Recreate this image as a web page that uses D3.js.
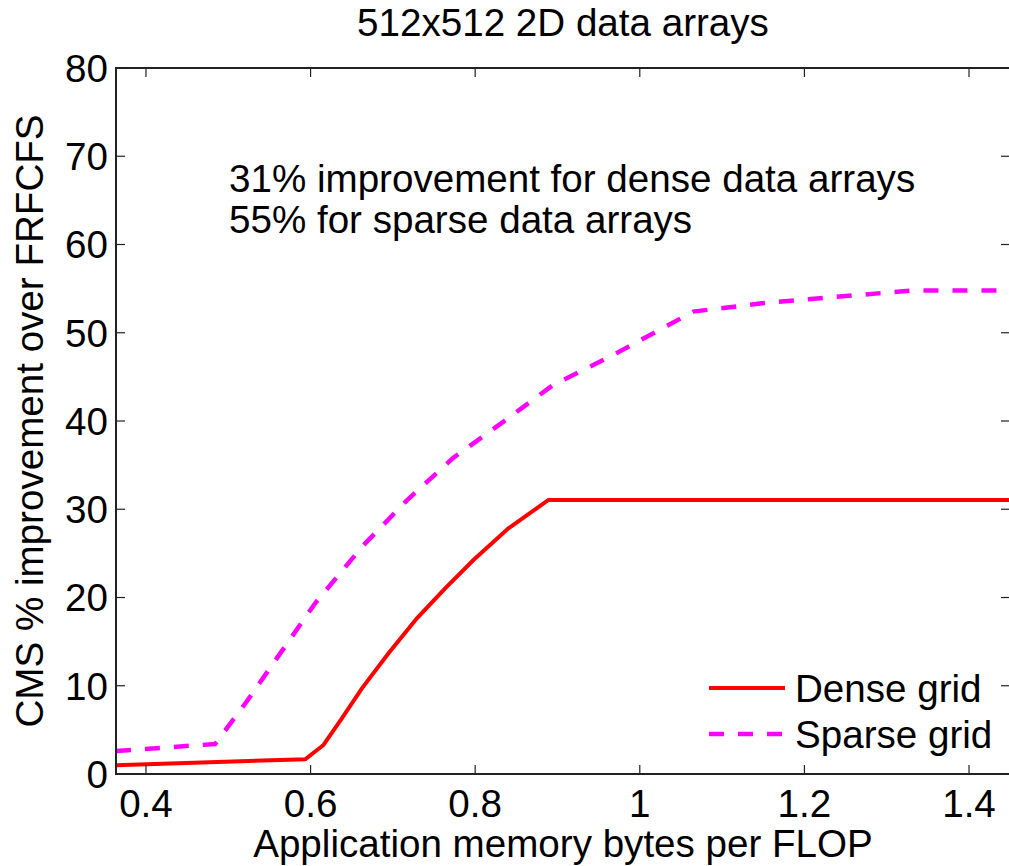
<!DOCTYPE html>
<html>
<head>
<meta charset="utf-8">
<script src="https://cdn.jsdelivr.net/npm/d3@7"></script>
<style>
  body { margin: 0; background: #fff; }
  text { font-family: "Liberation Sans", Arial, Helvetica, sans-serif; fill: #000; }
</style>
</head>
<body>
<div id="chart"></div>
<script>
// Data
const denseX = [0.3636, 0.5935, 0.6157, 0.638, 0.6624, 0.6947, 0.7292, 0.7635, 0.7979, 0.8404, 0.889, 1.4498];
const denseY = [1.0, 1.67, 3.29, 6.31, 9.71, 13.68, 17.64, 21.04, 24.25, 27.84, 31.05, 31.05];
const sparseX = [0.3636, 0.484, 0.52, 0.606, 0.664, 0.717, 0.773, 0.834, 0.895, 0.964, 1.065, 1.154, 1.332, 1.4498];
const sparseY = [2.6, 3.4, 7.9, 19.4, 25.9, 31.0, 35.8, 39.9, 44.1, 47.3, 52.4, 53.4, 54.8, 54.8];
const xTicks = [0.4, 0.6, 0.8, 1, 1.2, 1.4];
const yTicks = [0, 10, 20, 30, 40, 50, 60, 70, 80];
const seriesNames = ['Dense grid', 'Sparse grid'];
const annotation = ['31% improvement for dense data arrays', '55% for sparse data arrays'];

const width = 1009;
const height = 866;
const margin = { left: 116, right: -1, top: 68, bottom: 92 };
const fontSize = 38.6;

const svg = d3.select('#chart')
    .append('svg')
    .attr('width', width)
    .attr('height', height);

const x = d3.scaleLinear()
    .domain([0.3636, 1.4498])
    .range([margin.left, width - margin.right]);
const y = d3.scaleLinear()
    .domain([0, 80])
    .range([height - margin.bottom, margin.top]);

const x0 = x.range()[0], x1 = x.range()[1];
const y0 = y.range()[0], y1 = y.range()[1];
const tickLen = 9;

// Lines
const line = d3.line().x(d => x(d[0])).y(d => y(d[1]));
const dense = denseX.map((v, i) => [v, denseY[i]]);
const sparse = sparseX.map((v, i) => [v, sparseY[i]]);

svg.append('path')
    .datum(sparse)
    .attr('d', line)
    .attr('fill', 'none')
    .attr('stroke', '#ff00ff')
    .attr('stroke-width', 4.5)
    .attr('stroke-dasharray', '15,14');

svg.append('path')
    .datum(dense)
    .attr('d', line)
    .attr('fill', 'none')
    .attr('stroke', '#ff0000')
    .attr('stroke-width', 4);

// Box and ticks (mirrored on all sides)
const axisG = svg.append('g').attr('stroke', '#222');
axisG.append('rect')
    .attr('x', x0).attr('y', y1)
    .attr('width', x1 - x0).attr('height', y0 - y1)
    .attr('fill', 'none')
    .attr('stroke-width', 2);

xTicks.forEach(t => {
    axisG.append('line').attr('x1', x(t)).attr('x2', x(t)).attr('y1', y0).attr('y2', y0 - tickLen).attr('stroke-width', 1.2);
    axisG.append('line').attr('x1', x(t)).attr('x2', x(t)).attr('y1', y1).attr('y2', y1 + tickLen).attr('stroke-width', 1.2);
});
yTicks.forEach(t => {
    axisG.append('line').attr('x1', x0).attr('x2', x0 + tickLen).attr('y1', y(t)).attr('y2', y(t)).attr('stroke-width', 1.2);
    axisG.append('line').attr('x1', x1).attr('x2', x1 - tickLen).attr('y1', y(t)).attr('y2', y(t)).attr('stroke-width', 1.2);
});

// Tick labels
svg.append('g').selectAll('text')
    .data(xTicks)
    .enter()
    .append('text')
    .attr('x', d => x(d))
    .attr('y', 817)
    .attr('text-anchor', 'middle')
    .style('font-size', fontSize + 'px')
    .text(d => String(d));

svg.append('g').selectAll('text')
    .data(yTicks)
    .enter()
    .append('text')
    .attr('x', x0 - 8)
    .attr('y', d => y(d))
    .attr('dy', '0.36em')
    .attr('text-anchor', 'end')
    .style('font-size', fontSize + 'px')
    .text(d => d);

// Axis titles
svg.append('text')
    .attr('x', (x0 + x1) / 2)
    .attr('y', 36)
    .attr('text-anchor', 'middle')
    .style('font-size', fontSize + 'px')
    .text('512x512 2D data arrays');

svg.append('text')
    .attr('x', (x0 + x1) / 2)
    .attr('y', 857)
    .attr('text-anchor', 'middle')
    .style('font-size', fontSize + 'px')
    .text('Application memory bytes per FLOP');

svg.append('text')
    .attr('transform', `translate(43,${(y0 + y1) / 2}) rotate(-90)`)
    .attr('text-anchor', 'middle')
    .style('font-size', fontSize + 'px')
    .text('CMS % improvement over FRFCFS');

// Annotation
svg.append('g').selectAll('text')
    .data(annotation)
    .enter()
    .append('text')
    .attr('x', 229)
    .attr('y', (d, i) => 192 + i * 41)
    .style('font-size', fontSize + 'px')
    .text(d => d);

// Legend (no box)
const legend = svg.append('g');
const legendStyles = [
    { color: '#ff0000', dash: null, w: 4 },
    { color: '#ff00ff', dash: '15,14', w: 4.5 }
];
seriesNames.forEach((name, i) => {
    const ly = 688 + i * 46;
    legend.append('line')
        .attr('x1', 709).attr('x2', 785)
        .attr('y1', ly).attr('y2', ly)
        .attr('stroke', legendStyles[i].color)
        .attr('stroke-width', legendStyles[i].w)
        .attr('stroke-dasharray', legendStyles[i].dash);
    legend.append('text')
        .attr('x', 795)
        .attr('y', ly + 14)
        .style('font-size', fontSize + 'px')
        .text(name);
});
</script>
</body>
</html>
